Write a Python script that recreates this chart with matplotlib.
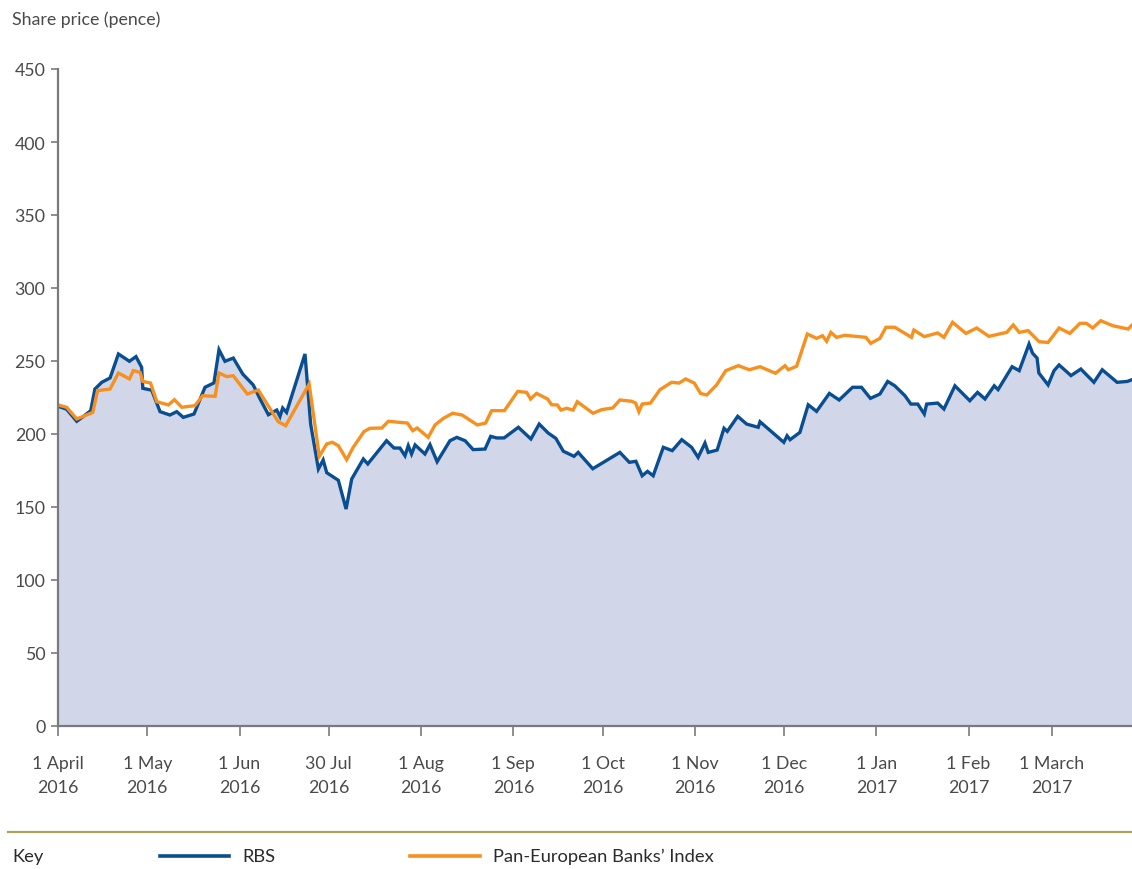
import matplotlib
matplotlib.use("Agg")
import matplotlib.pyplot as plt
from matplotlib.lines import Line2D

# ---------------- data (days since 1 April 2016, pence) ----------------
rbs_days = [0, 2.9, 6.3, 8.5, 11.0, 12.4, 14.7, 17.5, 20.3, 24.0, 26.2, 28.1, 28.5,
            31.5, 34.3, 37.6, 39.9, 42.1, 45.7, 49.4, 52.4, 54.1, 56.1, 58.9, 62.1,
            65.6, 67.9, 70.7, 73.5, 74.6, 75.5, 76.8, 83.0, 84.9, 87.5, 89.1, 90.3,
            94.2, 96.8, 98.7, 102.6, 104.1, 110.4, 112.9, 114.9, 116.6, 117.7, 118.8,
            120.0, 123.3, 125.0, 127.4, 131.7, 134.0, 136.8, 139.5, 143.5, 145.4,
            147.4, 149.9, 154.7, 158.9, 161.7, 164.7, 167.3, 169.8, 173.4, 174.8,
            179.7, 188.8, 192.0, 194.2, 196.3, 198.1, 200.0, 203.4, 206.4, 209.6,
            212.9, 215.1, 217.4, 218.5, 221.5, 223.8, 224.9, 228.4, 231.4, 235.3,
            235.9, 243.9, 245.0, 246.0, 249.3, 252.1, 254.9, 259.2, 262.5, 267.0,
            270.0, 273.0, 276.2, 278.8, 281.2, 284.6, 286.6, 288.9, 291.1, 291.9,
            295.6, 297.7, 301.4, 306.4, 309.0, 311.5, 314.6, 315.9, 320.6, 323.0,
            326.3, 327.5, 329.0, 329.6, 332.7, 334.7, 336.4, 340.4, 343.7, 348.1,
            350.9, 355.9, 359.3, 360.9]
rbs_price = [219, 217, 208.7, 212, 216, 230.8, 235.4, 238.4, 254.8, 249.8, 253, 245.7, 231.3,
             230, 215.3, 213, 215.3, 211.4, 213.7, 232, 235, 257.7, 249.8, 252, 241,
             233.6, 224, 213.2, 216.4, 212, 217.8, 214.8, 254.8, 206.8, 176, 182.2, 173.5,
             168.3, 148.6, 169.2, 182.9, 179.5, 195.4, 190.4, 190.4, 185.1, 192, 186.3,
             192.5, 186.3, 192.7, 181, 195.4, 197.7, 195.4, 189.3, 189.7, 198.4,
             197.3, 197.3, 204.6, 196.6, 206.8, 200.7, 197, 188.2, 184.7, 187.4,
             176.2, 187.4, 180.6, 181.3, 171.4, 174.4, 171.4, 190.9, 188.6, 196.1,
             190.9, 184, 193.8, 187.4, 189, 203.9, 201.8, 212.1, 206.8, 204.6,
             208.4, 194.3, 198.8, 196.1, 201.1, 220, 215.5, 227.8, 223.3, 232,
             232, 224.4, 227.4, 236, 233, 226.2, 220.5, 220.5, 213.7, 220.5,
             221.2, 217.1, 233, 222.8, 228.5, 224, 233, 230.4, 246.1, 243.4,
             261.6, 255.3, 252, 241.8, 233.6, 243.4, 247.3, 240, 244.5, 235.4,
             244, 235.4, 236, 237.2]

banks_days = [0, 2.9, 6.3, 11.7, 13.3, 17.5, 20.3, 24.0, 25.3, 27.6, 28.5, 31.1, 33.2,
              37.1, 39.1, 41.6, 46.0, 48.6, 52.8, 54.1, 56.7, 58.9, 63.6, 67.3, 74.0,
              76.5, 84.4, 87.8, 90.3, 92.2, 94.2, 97.0, 99.2, 102.8, 104.8, 108.8,
              111.0, 117.4, 119.2, 120.7, 124.4, 126.7, 129.5, 132.6, 135.8, 140.9,
              143.7, 145.7, 150.0, 154.5, 157.5, 158.8, 160.8, 164.5, 165.9, 167.8,
              169.0, 170.9, 173.1, 174.5, 179.8, 182.7, 186.4, 188.8, 192.8, 194.1,
              195.2, 196.3, 199.1, 202.3, 206.2, 208.7, 210.9, 213.8, 215.9, 218.0,
              221.3, 224.4, 228.6, 232.3, 235.9, 241.1, 244.3, 245.4, 248.2, 251.8,
              254.9, 256.9, 258.3, 259.7, 261.6, 264.4, 271.5, 273.1, 276.2, 278.2,
              281.2, 286.8, 287.6, 291.1, 295.6, 297.7, 300.6, 305.1, 308.7, 312.8,
              318.8, 321.0, 323.0, 326.0, 329.7, 332.7, 336.4, 340.0, 343.4, 345.6,
              347.7, 350.4, 354.4, 359.6, 360.9]
banks_price = [219.9, 218.3, 210.3, 214.8, 229.7, 230.8, 241.8, 237.7, 243.4, 242.2, 236, 234.9, 222.1,
               219.9, 223.5, 218.3, 219.4, 226.2, 225.8, 241.8, 239.3, 239.9, 227.4, 230.1, 208.4,
               205.7, 234.2, 184.7, 193.2, 194.3, 192, 182.4, 190.9, 201.6, 203.9, 204.1,
               208.7, 207.5, 202.3, 204.1, 197.7, 206.2, 210.7, 214.2, 213, 206.2,
               207.5, 216, 216, 229.2, 228.5, 224, 227.8, 224, 220, 219.9,
               216.4, 217.6, 216.4, 222.1, 214.2, 216.7, 217.8, 223.3, 222.4, 221.2,
               215.3, 220.5, 221.2, 230.4, 235.4, 234.9, 237.7, 234.9, 227.8, 226.7,
               233.6, 243.4, 246.8, 244, 246.1, 241.6, 246.8, 244, 246.4, 268.5,
               265.5, 267.3, 263.5, 269.6, 266.2, 267.6, 266.2, 262.1, 265.5, 273.1,
               273.1, 266.2, 271.2, 266.7, 269.2, 266.2, 276.5, 268.9, 272.6, 266.9,
               269.6, 274.7, 269.6, 270.8, 263.2, 262.7, 272.6, 268.9, 275.8, 275.8,
               272.6, 277.6, 274.2, 271.9, 274.7]

tick_days = [0, 30, 61, 91, 122, 153, 183, 214, 244, 275, 306, 334]
tick_labels = ["1 April\n2016", "1 May\n2016", "1 Jun\n2016", "30 Jul\n2016",
               "1 Aug\n2016", "1 Sep\n2016", "1 Oct\n2016", "1 Nov\n2016",
               "1 Dec\n2016", "1 Jan\n2017", "1 Feb\n2017", "1 March\n2017"]
y_ticks = [0, 50, 100, 150, 200, 250, 300, 350, 400, 450]
series_names = ["RBS", "Pan-European Banks\u2019 Index"]

# ---------------- style ----------------
BLUE = "#0a4e92"
ORANGE = "#f7901e"
FILL = "#d1d7e9"
AXIS = "#7a7a7a"
TXT = "#4a4a4a"
DARK = "#2b2b2b"
FS = 12.8
plt.rcParams["font.family"] = ["Lato", "DejaVu Sans"]

W, H = 1132, 870
fig = plt.figure(figsize=(W / 100, H / 100), dpi=100)
ax = fig.add_axes([58 / W, 1 - 727 / H, 1 - 58 / W, (727 - 70) / H])

ax.fill_between(rbs_days, rbs_price, 0, color=FILL, lw=0, zorder=1)
ax.plot(rbs_days, rbs_price, color=BLUE, lw=2.4, zorder=3, solid_joinstyle="miter")
ax.plot(banks_days, banks_price, color=ORANGE, lw=2.4, zorder=4, solid_joinstyle="miter")

ax.set_xlim(0, 360.9)
ax.set_ylim(0, 450)
ax.set_yticks(y_ticks)
ax.set_yticklabels([str(v) for v in y_ticks])
ax.set_xticks(tick_days)
ax.set_xticklabels(tick_labels, linespacing=1.6, ha="center", multialignment="center")

for s in ["top", "right"]:
    ax.spines[s].set_visible(False)
for s in ["left", "bottom"]:
    ax.spines[s].set_color(AXIS)
    ax.spines[s].set_linewidth(1.6)
    ax.spines[s].set_zorder(5)

ax.tick_params(axis="y", length=5, width=1.2, color=AXIS, labelsize=FS, labelcolor=TXT, pad=4)
ax.tick_params(axis="x", length=7, width=1.2, color=AXIS, labelsize=FS, labelcolor=TXT, pad=14)

fig.text(12 / W, 1 - 20 / H, "Share price (pence)", fontsize=FS, color=TXT, va="center", ha="left")

# ---------------- key ----------------
fig.add_artist(Line2D([8 / W, 1], [1 - 833 / H] * 2, color="#ada160", lw=1.6))
ky = 1 - 857 / H
fig.text(12 / W, ky, "Key", fontsize=FS + 0.4, color=DARK, va="center", ha="left")
fig.add_artist(Line2D([160 / W, 229 / W], [ky, ky], color=BLUE, lw=2.6))
fig.text(242 / W, ky, series_names[0], fontsize=FS + 0.4, color=DARK, va="center", ha="left")
fig.add_artist(Line2D([410 / W, 480 / W], [ky, ky], color=ORANGE, lw=2.6))
fig.text(493 / W, ky, series_names[1], fontsize=FS + 0.4, color=DARK, va="center", ha="left")

fig.savefig("out.png", dpi=100)
